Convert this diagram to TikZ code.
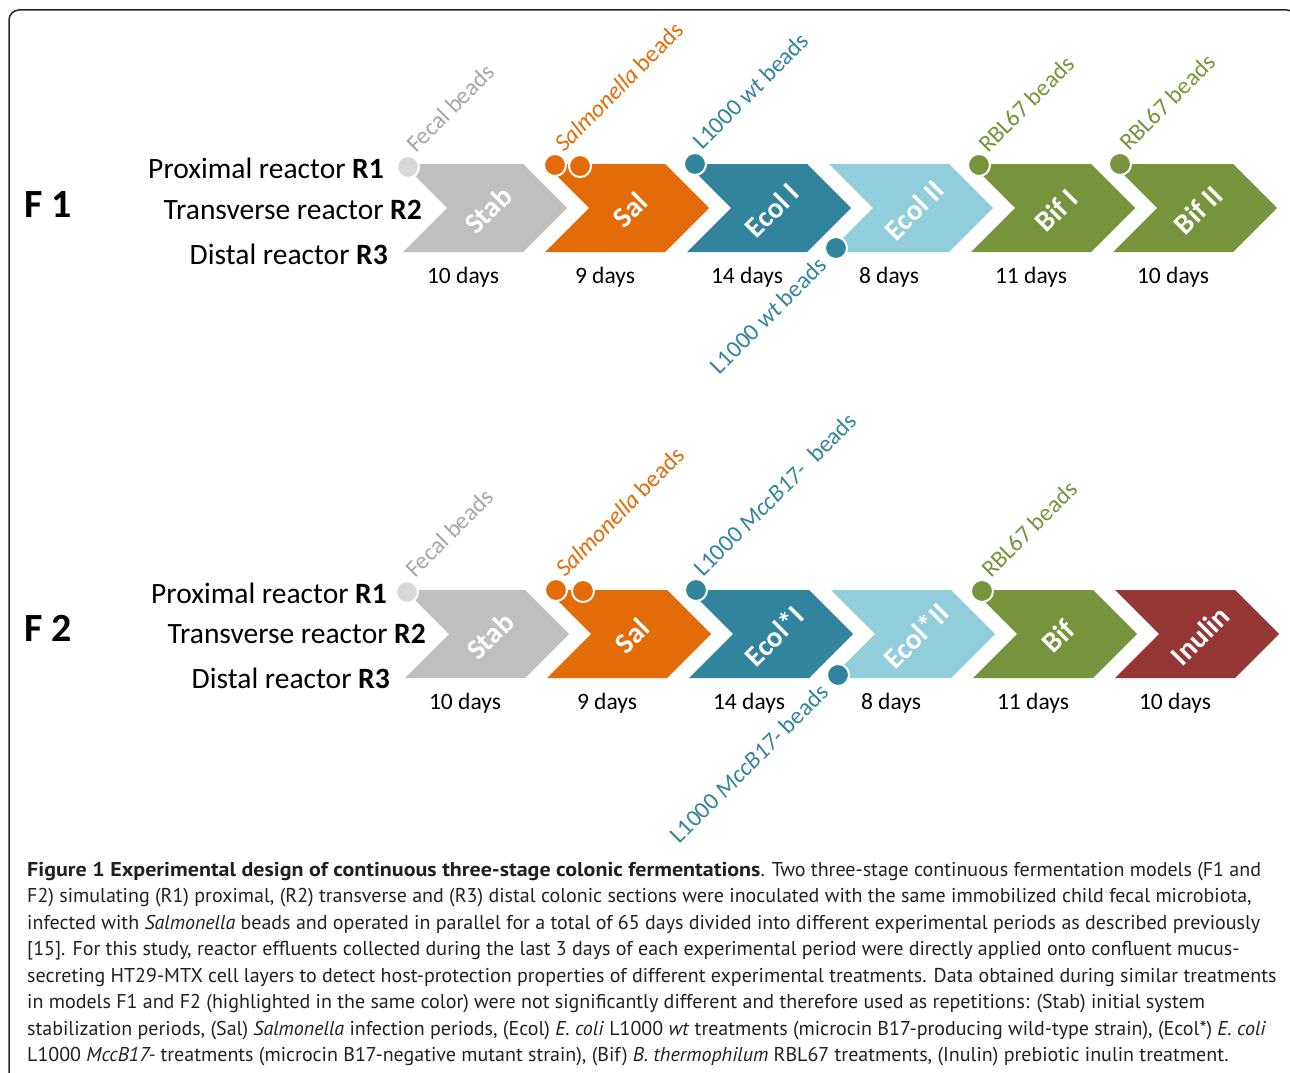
\documentclass[tikz,border=0pt]{standalone}
\usepackage{fontspec}
\setmainfont{Carlito}
\newfontfamily\capfont{PT Sans}[BoldFeatures={FakeStretch=1.1}]
\definecolor{cStab}{HTML}{BFBFBF}
\definecolor{cFecal}{HTML}{D9D9D9}
\definecolor{cFecalT}{HTML}{A6A6A6}
\definecolor{cSal}{HTML}{E36C09}
\definecolor{cEcol}{HTML}{31849B}
\definecolor{cEcolII}{HTML}{92CDDC}
\definecolor{cBif}{HTML}{77933C}
\definecolor{cInu}{HTML}{953735}
\definecolor{cCap}{HTML}{231F20}
\newcommand\chev[6]{%
  \fill[#4] (#2,#3-44) -- ++(120,0) -- ++(44,44) -- ++(-44,44) -- ++(-120,0) -- ++(44,-44) -- cycle;
  \node[chevlabel] (#1) at (#2+85,#3+2) {#5};
  \node[dayslabel] (#1d) at (#2+60,#3+69) {#6};}
\begin{document}
\begin{tikzpicture}[x=1pt,y=-1pt,
  chevlabel/.style={text=white, font=\fontsize{29}{30}\selectfont\bfseries, rotate=45, inner sep=0pt},
  dayslabel/.style={font=\fontsize{23.5}{26}\selectfont, inner sep=0pt},
  reactor/.style={font=\fontsize{29.5}{32}\selectfont, anchor=east, inner sep=0pt},
  flabel/.style={font=\fontsize{40}{44}\selectfont\bfseries, inner sep=0pt},
  bead/.style={circle, minimum size=22pt, inner sep=0pt, draw=white, line width=2pt},
  beadtext/.style={font=\fontsize{24}{26}\selectfont, rotate=45, anchor=base west, inner sep=0pt},
  beadtextr/.style={font=\fontsize{24}{26}\selectfont, rotate=45, anchor=base east, inner sep=0pt}]
\useasboundingbox (0,0) rectangle (1290,1073);
\clip (0,0) rectangle (1290,1073);
\draw[line width=1.5pt, black!85, rounded corners=10pt] (9,10) rectangle (1297,1095);

% ---------- F1 ----------
\node[flabel] (f1) at (48,205) {F 1};
\node[reactor] (f1r1) at (384,168) {Proximal reactor \textbf{R1}};
\node[reactor] (f1r2) at (422,210) {Transverse reactor \textbf{R2}};
\node[reactor] (f1r3) at (388,254) {Distal reactor \textbf{R3}};
\chev{f1a}{403}{208}{cStab}{Stab}{10 days}
\chev{f1b}{545}{208}{cSal}{Sal}{9 days}
\chev{f1c}{687}{208}{cEcol}{Ecol I}{14 days}
\chev{f1e}{829}{208}{cEcolII}{Ecol II}{8 days}
\chev{f1f}{971}{208}{cBif}{Bif I}{11 days}
\chev{f1g}{1113}{208}{cBif}{Bif II}{10 days}
\node[bead, fill=cFecal] (b1a) at (408,167) {};
\node[bead, fill=cSal] (b1b) at (555,165) {};
\node[bead, fill=cSal] (b1b2) at (580,166) {};
\node[bead, fill=cEcol] (b1c) at (695,164) {};
\node[bead, fill=cEcol] (b1e) at (836,248) {};
\node[bead, fill=cBif] (b1f) at (979,165) {};
\node[bead, fill=cBif] (b1g) at (1120,164) {};
\node[beadtext, text=cFecalT] (t1a) at (416,154) {Fecal beads};
\node[beadtext, text=cSal] (t1b) at (564,153) {\textit{Salmonella} beads};
\node[beadtext, text=cEcol] (t1c) at (702,151) {L1000 \textit{wt} beads};
\node[beadtextr, text=cEcol] (t1e) at (828,267) {L1000 \textit{wt} beads};
\node[beadtext, text=cBif] (t1f) at (988,154) {RBL67 beads};
\node[beadtext, text=cBif] (t1g) at (1129,152) {RBL67 beads};

% ---------- F2 ----------
\node[flabel] (f2) at (48,628) {F 2};
\node[reactor] (f2r1) at (387,593) {Proximal reactor \textbf{R1}};
\node[reactor] (f2r2) at (426,634) {Transverse reactor \textbf{R2}};
\node[reactor] (f2r3) at (390,678) {Distal reactor \textbf{R3}};
\chev{f2a}{405}{634}{cStab}{Stab}{10 days}
\chev{f2b}{547}{634}{cSal}{Sal}{9 days}
\chev{f2c}{689}{634}{cEcol}{Ecol*I}{14 days}
\chev{f2e}{831}{634}{cEcolII}{Ecol*II}{8 days}
\chev{f2f}{973}{634}{cBif}{Bif}{11 days}
\chev{f2g}{1115}{634}{cInu}{Inulin}{10 days}
\node[bead, fill=cFecal] (b2a) at (407,592) {};
\node[bead, fill=cSal] (b2b) at (556,590) {};
\node[bead, fill=cSal] (b2b2) at (583,591) {};
\node[bead, fill=cEcol] (b2c) at (696,590) {};
\node[bead, fill=cEcol] (b2e) at (838,675) {};
\node[bead, fill=cBif] (b2f) at (982,591) {};
\node[beadtext, text=cFecalT] (t2a) at (415,579) {Fecal beads};
\node[beadtext, text=cSal] (t2b) at (565,578) {\textit{Salmonella} beads};
\node[beadtext, text=cEcol] (t2c) at (703,578) {L1000 \textit{MccB17-}\enspace beads};
\node[beadtextr, text=cEcol] (t2e) at (830,694) {L1000 \textit{MccB17-} beads};
\node[beadtext, text=cBif] (t2f) at (991,579) {RBL67 beads};

% ---------- caption ----------
\node[anchor=north west, inner sep=0pt, align=left, text=cCap,
      font=\capfont\fontsize{20}{26.5}\selectfont] (cap) at (27,862) {%
\textbf{Figure 1 Experimental design of continuous three-stage colonic fermentations}. Two three-stage continuous fermentation models (F1 and\\
F2) simulating (R1) proximal, (R2) transverse and (R3) distal colonic sections were inoculated with the same immobilized child fecal microbiota,\\
infected with \textit{Salmonella} beads and operated in parallel for a total of 65 days divided into different experimental periods as described previously\\
{[15]}. For this study, reactor effluents collected during the last 3 days of each experimental period were directly applied onto confluent mucus-\\
secreting HT29-MTX cell layers to detect host-protection properties of different experimental treatments. Data obtained during similar treatments\\
in models F1 and F2 (highlighted in the same color) were not significantly different and therefore used as repetitions: (Stab) initial system\\
stabilization periods, (Sal) \textit{Salmonella} infection periods, (Ecol) \textit{E. coli} L1000 \textit{wt} treatments (microcin B17-producing wild-type strain), (Ecol*) \textit{E. coli}\\
L1000 \textit{MccB17-} treatments (microcin B17-negative mutant strain), (Bif) \textit{B. thermophilum} RBL67 treatments, (Inulin) prebiotic inulin treatment.};
\end{tikzpicture}
\end{document}
